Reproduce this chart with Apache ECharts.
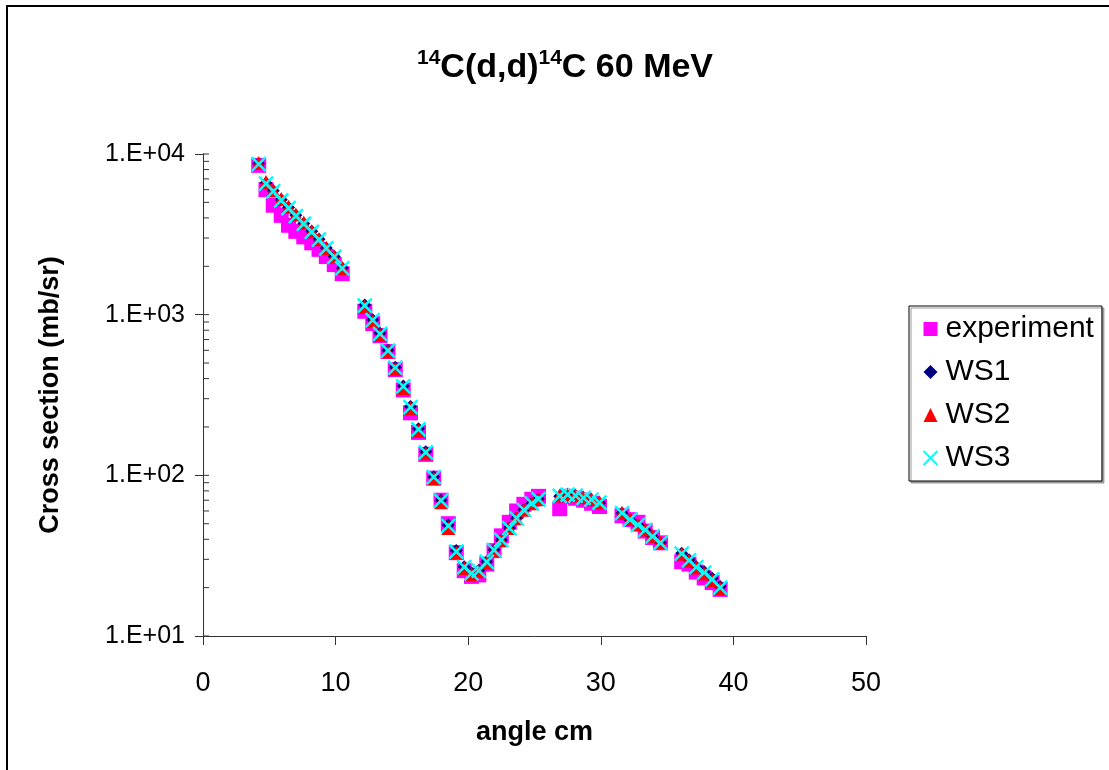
<!DOCTYPE html>
<html>
<head>
<meta charset="utf-8">
<script src="https://cdn.jsdelivr.net/npm/echarts@6/dist/echarts.min.js"></script>
<style>
html,body{margin:0;padding:0;background:#fff;}
#chart{width:1109px;height:770px;}
</style>
</head>
<body>
<div id="chart"></div>
<script>
// Angles (cm) – same grid for experiment and the three calculations
const angles = [4.2, 4.75, 5.3, 5.9, 6.45, 7.0, 7.6, 8.2, 8.75, 9.3, 9.9, 10.5,
  12.2, 12.8, 13.35, 13.95, 14.5, 15.1, 15.65, 16.25, 16.8, 17.4, 17.95, 18.5, 19.1, 19.7, 20.25, 20.8, 21.4, 21.95, 22.5, 23.1, 23.65, 24.2, 24.8, 25.3,
  26.9, 27.5, 28.1, 28.7, 29.3, 29.9,
  31.6, 32.2, 32.8, 33.35, 33.9, 34.5,
  36.1, 36.65, 37.2, 37.8, 38.4, 39.0];

const experiment = [8500, 6000, 4800, 4150, 3600, 3300, 3050, 2800, 2550, 2300, 2050, 1800,
  1050, 880, 740, 590, 455, 340, 245, 185, 135, 96, 70, 50, 33, 25.5, 23.5, 24, 28, 34, 42, 51, 60, 66, 71, 74,
  62, 74, 72, 70, 67, 64,
  56, 53, 51, 45, 41, 38,
  29, 28, 25, 23, 21.5, 19.5];

const ws1 = [8700, 6600, 5900, 5200, 4650, 4150, 3700, 3300, 2950, 2600, 2300, 1950,
  1150, 930, 765, 600, 470, 360, 268, 195, 140, 98, 70, 49, 34, 27, 24.7, 25.7, 29, 34.4, 39.6, 47, 54, 61, 67, 71,
  74, 75.5, 74.5, 72.3, 70.3, 67.3,
  58, 52.7, 49, 45.7, 41.5, 37.9,
  32.7, 29.8, 27, 25.1, 22.9, 20.3];

const ws2 = [8800, 6700, 5950, 5250, 4700, 4200, 3750, 3300, 2950, 2600, 2300, 1950,
  1120, 910, 750, 590, 460, 350, 262, 190, 137, 96, 68, 47, 33, 26.5, 24.3, 25.3, 28.7, 34, 39.5, 47, 54, 61, 67, 71,
  75, 76, 75, 73, 71, 68,
  58.5, 53.5, 49.5, 46, 42, 38.3,
  32.5, 29.5, 26.7, 24.5, 22.2, 19.8];

const ws3 = [8650, 6550, 5850, 5150, 4600, 4100, 3680, 3280, 2930, 2590, 2290, 1940,
  1140, 925, 760, 598, 468, 358, 266, 193, 139, 97.5, 69.5, 48.5, 33.5, 26.8, 24.5, 25.5, 28.9, 34.2, 39.6, 47, 54, 61, 67, 71,
  74.5, 75.8, 74.8, 72.5, 70.5, 67.5,
  58.2, 53, 49.2, 45.8, 41.7, 38,
  32.6, 29.6, 26.8, 24.8, 22.5, 20];

const xTicks = [0, 10, 20, 30, 40, 50];
const yMajorTicks = [10, 100, 1000, 10000];
const yMinorTicks = [20, 30, 40, 50, 60, 70, 80, 90, 200, 300, 400, 500, 600, 700, 800, 900, 2000, 3000, 4000, 5000, 6000, 7000, 8000, 9000];

const pairs = ys => angles.map((a, i) => [a, ys[i]]);
const FONT = 'Liberation Sans, Arial, sans-serif';

const chart = echarts.init(document.getElementById('chart'), null, {renderer: 'canvas'});

const tickSeries = {
  type: 'custom',
  silent: true,
  clip: false,
  z: 1,
  data: yMinorTicks.map(v => [0, v, 6]).concat(yMajorTicks.map(v => [0, v, 6])),
  renderItem: (params, api) => {
    const p = api.coord([0, api.value(1)]);
    return {
      type: 'line',
      shape: {x1: p[0], y1: p[1], x2: p[0] + api.value(2), y2: p[1]},
      style: {stroke: '#333', lineWidth: 1}
    };
  }
};

const option = {
  backgroundColor: '#fff',
  animation: false,
  title: {
    text: '{s|14}{b|C(d,d)}{s|14}{b|C 60 MeV}',
    left: 560,
    textAlign: 'center',
    top: 43,
    textStyle: {
      color: '#000',
      rich: {
        s: {fontFamily: FONT, fontWeight: 'bold', fontSize: 21, color: '#000', verticalAlign: 'top', lineHeight: 39, padding: [0, 0, 17, 0]},
        b: {fontFamily: FONT, fontWeight: 'bold', fontSize: 34, color: '#000', lineHeight: 39}
      }
    }
  },
  graphic: [{
    type: 'rect',
    shape: {x: 7, y: 6, width: 1200, height: 900},
    style: {fill: 'none', stroke: '#000', lineWidth: 2},
    silent: true
  }],
  legend: {
    orient: 'vertical',
    left: 909,
    top: 306,
    padding: [8, 8, 8, 12],
    itemGap: 13,
    itemWidth: 14,
    itemHeight: 14,
    backgroundColor: '#fff',
    borderColor: '#000',
    borderWidth: 1,
    shadowColor: '#999',
    shadowOffsetX: 2,
    shadowOffsetY: 2,
    shadowBlur: 0,
    textStyle: {fontFamily: FONT, fontSize: 30, lineHeight: 30, color: '#000', padding: [0, 0, 0, 3]},
    data: ['experiment', 'WS1', 'WS2', 'WS3']
  },
  grid: {left: 203, right: 243, top: 154, bottom: 134, containLabel: false},
  xAxis: {
    type: 'value',
    min: 0, max: 50, interval: 10,
    name: 'angle cm',
    nameLocation: 'middle',
    nameGap: 83,
    nameTextStyle: {fontFamily: FONT, fontWeight: 'bold', fontSize: 27, color: '#000'},
    axisLine: {onZero: false, lineStyle: {color: '#333', width: 1}},
    axisTick: {show: true, length: 9, lineStyle: {color: '#333'}},
    axisLabel: {fontFamily: FONT, fontSize: 27, color: '#000', margin: 34},
    splitLine: {show: false}
  },
  yAxis: {
    type: 'log',
    logBase: 10,
    min: 10, max: 10000,
    name: 'Cross section (mb/sr)',
    nameLocation: 'middle',
    nameGap: 139,
    nameRotate: 90,
    nameTextStyle: {fontFamily: FONT, fontWeight: 'bold', fontSize: 27, color: '#000'},
    axisLine: {show: true, lineStyle: {color: '#333', width: 1}},
    axisTick: {show: true, length: 8, lineStyle: {color: '#333'}},
    axisLabel: {
      fontFamily: FONT, fontSize: 25, color: '#000', margin: 18,
      formatter: v => '1.E+' + String(Math.round(Math.log10(v))).padStart(2, '0')
    },
    splitLine: {show: false}
  },
  series: [
    tickSeries,
    {
      name: 'experiment', type: 'scatter', symbol: 'rect', symbolSize: 15, z: 2,
      itemStyle: {color: '#FF00FF', opacity: 1},
      data: pairs(experiment)
    },
    {
      name: 'WS1', type: 'scatter', symbol: 'diamond', symbolSize: 13, z: 3,
      itemStyle: {color: '#000080', opacity: 1},
      data: pairs(ws1)
    },
    {
      name: 'WS2', type: 'scatter', symbol: 'triangle', symbolSize: 14, z: 4,
      itemStyle: {color: '#FF0000', opacity: 1},
      data: pairs(ws2)
    },
    {
      name: 'WS3', type: 'scatter', symbol: 'path://M0,0L10,10M10,0L0,10', symbolSize: 14, z: 5,
      itemStyle: {color: 'none', borderColor: '#00FFFF', borderWidth: 2.5, opacity: 1},
      data: pairs(ws3)
    }
  ]
};

chart.setOption(option);
</script>
</body>
</html>
